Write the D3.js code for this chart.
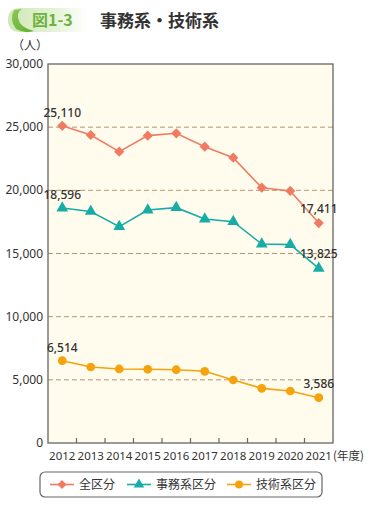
<!DOCTYPE html>
<html><head><meta charset="utf-8">
<script src="https://cdn.jsdelivr.net/npm/d3@7"></script>
<style>
html,body{margin:0;padding:0;background:#fff;}
svg{display:block;font-family:"Noto Sans CJK JP","Noto Sans",sans-serif;}
</style></head>
<body>
<svg id="c" width="380" height="505"></svg>
<script>
const years = ["2012","2013","2014","2015","2016","2017","2018","2019","2020","2021"];
const totalVals = [25110,24380,23060,24330,24515,23455,22585,20210,19950,17411];
const adminVals = [18596,18330,17125,18445,18630,17730,17520,15750,15700,13825];
const techVals  = [6514,6016,5858,5835,5800,5674,4987,4327,4116,3586];
const yTicks = [0,5000,10000,15000,20000,25000,30000];
const seriesNames = ["全区分","事務系区分","技術系区分"];

const svg = d3.select("#c");
const L=48,R=333,T=64,B=443;
const x = d3.scaleBand().domain(years).range([L,R]);
const y = d3.scaleLinear().domain([0,30000]).range([B,T]);
const fmt = d3.format(",");

// title tab
const defs = svg.append("defs");
const g1 = defs.append("linearGradient").attr("id","tabg").attr("x1","0").attr("x2","1");
g1.append("stop").attr("offset","0").attr("stop-color","#cfe8b4");
g1.append("stop").attr("offset","0.6").attr("stop-color","#e6f3d8");
g1.append("stop").attr("offset","1").attr("stop-color","#ffffff");
const g2 = defs.append("linearGradient").attr("id","leafg").attr("x1","0").attr("x2","1").attr("y1","0").attr("y2","1");
g2.append("stop").attr("offset","0").attr("stop-color","#8cc85a");
g2.append("stop").attr("offset","1").attr("stop-color","#5fae2e");
svg.append("path").attr("d","M20,8 L88,8 L88,32 L20,32 Q8,32 8,20 Q8,8 20,8 Z").attr("fill","url(#tabg)");
svg.append("path").attr("d","M14,10 Q9,20 16,29 Q24,34 34,31 Q20,28 18,18 Q17,12 22,9 Z").attr("fill","url(#leafg)");
svg.append("text").attr("x",32).attr("y",26).attr("font-size",16).attr("font-weight","bold").attr("fill","#6db33f").text("図1-3");
svg.append("text").attr("x",100).attr("y",27).attr("font-size",17).attr("font-weight","bold").attr("fill","#333").text("事務系・技術系");

// plot background
svg.append("rect").attr("x",L).attr("y",T).attr("width",R-L).attr("height",B-T).attr("fill","#fffcee");

// gridlines
svg.append("g").selectAll("line").data(yTicks.filter(d=>d>0&&d<30000)).join("line")
  .attr("x1",L).attr("x2",R).attr("y1",d=>y(d)).attr("y2",d=>y(d))
  .attr("stroke","#b89470").attr("stroke-width",1).attr("stroke-dasharray","5,3");

// frame
svg.append("rect").attr("x",L).attr("y",T).attr("width",R-L).attr("height",B-T)
  .attr("fill","none").attr("stroke","#666").attr("stroke-width",1.3);

// y axis labels
svg.append("g").selectAll("text").data(yTicks).join("text")
  .attr("x",43).attr("y",d=>y(d)+4).attr("text-anchor","end").attr("font-size",12)
  .attr("fill","#333").attr("font-family","'Noto Sans','Open Sans',sans-serif").text(d=>fmt(d));
svg.append("text").attr("x",12).attr("y",50).attr("font-size",12).attr("fill","#333").text("（人）");

// x ticks
const xb = years.slice(1).map(d=>x(d));
svg.append("g").selectAll("line").data(xb).join("line")
  .attr("x1",d=>d).attr("x2",d=>d).attr("y1",B).attr("y2",B-5).attr("stroke","#666").attr("stroke-width",1.2);
svg.append("g").selectAll("text").data(years).join("text")
  .attr("x",d=>x(d)+x.bandwidth()/2).attr("y",460).attr("text-anchor","middle").attr("font-size",11.5)
  .attr("fill","#333").attr("font-family","'Noto Sans','Open Sans',sans-serif").text(d=>d);
svg.append("text").attr("x",333).attr("y",460).attr("font-size",11.5).attr("fill","#333").text("(年度)");

const cx = d=>x(d)+x.bandwidth()/2;
const series = [
  {name:seriesNames[0], vals:totalVals, color:"#f07b62", sym:d3.symbolSquare, size:52, rot:45},
  {name:seriesNames[1], vals:adminVals, color:"#17ada6", sym:d3.symbolTriangle, size:60, rot:0},
  {name:seriesNames[2], vals:techVals, color:"#f5a30c", sym:d3.symbolCircle, size:60, rot:0},
];
const line = d3.line().x((d,i)=>cx(years[i])).y(d=>y(d));
series.forEach(s=>{
  svg.append("path").attr("d",line(s.vals)).attr("fill","none").attr("stroke",s.color).attr("stroke-width",1.6);
  svg.append("g").selectAll("path").data(s.vals).join("path")
    .attr("transform",(d,i)=>`translate(${cx(years[i])},${y(d)}) rotate(${s.rot})`)
    .attr("d",d3.symbol().type(s.sym).size(s.size)).attr("fill",s.color);
});

// value labels
const lab = [
  {v:totalVals[0], i:0, dy:-9},
  {v:adminVals[0], i:0, dy:-9},
  {v:techVals[0], i:0, dy:-9},
  {v:totalVals[9], i:9, dy:-10},
  {v:adminVals[9], i:9, dy:-10},
  {v:techVals[9], i:9, dy:-10},
];
svg.append("g").selectAll("text").data(lab).join("text")
  .attr("x",d=>cx(years[d.i])).attr("y",d=>y(d.v)+d.dy).attr("text-anchor","middle")
  .attr("font-size",12).attr("font-weight","500").attr("fill","#333")
  .attr("font-family","'Noto Sans','Open Sans',sans-serif").text(d=>fmt(d.v));

// legend
svg.append("rect").attr("x",40).attr("y",472).attr("width",282).attr("height",25).attr("rx",5)
  .attr("fill","#fff").attr("stroke","#666").attr("stroke-width",1.2);
const lx = [50,127,227];
series.forEach((s,k)=>{
  const g = svg.append("g");
  g.append("line").attr("x1",lx[k]).attr("x2",lx[k]+24).attr("y1",484.5).attr("y2",484.5).attr("stroke",s.color).attr("stroke-width",1.6);
  g.append("path").attr("transform",`translate(${lx[k]+12},484.5) rotate(${s.rot})`).attr("d",d3.symbol().type(s.sym).size(s.size*0.8)).attr("fill",s.color);
  g.append("text").attr("x",lx[k]+29).attr("y",489).attr("font-size",12).attr("fill","#333").text(s.name);
});
</script>
</body></html>
